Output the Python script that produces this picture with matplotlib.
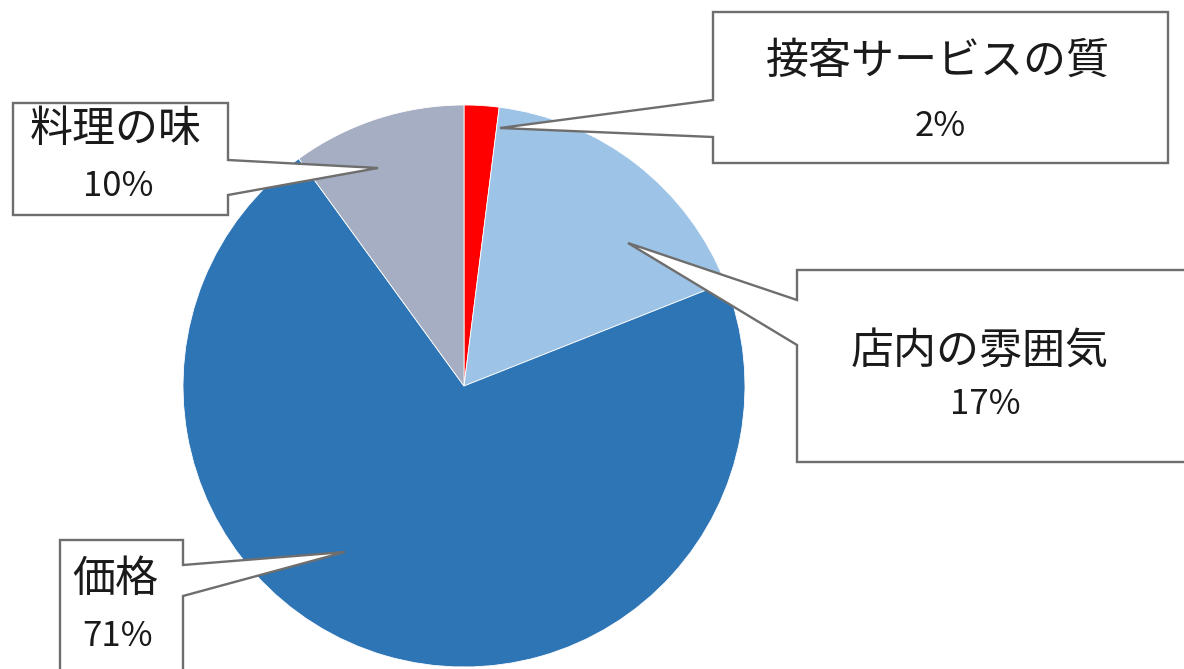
import matplotlib
matplotlib.use("Agg")
import matplotlib.pyplot as plt
from matplotlib.patches import Polygon

plt.rcParams['font.family'] = ['Noto Sans CJK JP', 'DejaVu Sans']

# survey shares, clockwise from 12 o'clock
labels = ['接客サービスの質', '店内の雰囲気', '価格', '料理の味']
shares = [2, 17, 71, 10]
colors = ['#FF0000', '#9DC3E6', '#2E75B6', '#A5AEC2']

W, H = 1184, 669

fig = plt.figure(figsize=(W / 100, H / 100), dpi=100)
ax = fig.add_axes([0, 0, 1, 1])
ax.set_xlim(0, W)
ax.set_ylim(0, H)
ax.set_aspect('equal')
ax.axis('off')


def fy(y):
    # pixel row -> data y
    return H - y


ax.pie(shares, colors=colors, startangle=90, counterclock=False,
       center=(464, fy(386)), radius=281,
       wedgeprops=dict(linewidth=0.6, edgecolor='white'))
ax.set_xlim(0, W)
ax.set_ylim(0, H)

# callout boxes: (x0, y0, x1, y1), side of pointer, pointer base rows, tip
callouts = [
    ((713, 12, 1168, 163), 'left', (100, 137), (500, 128), (938, 62), (940, 126)),
    ((797, 270, 1190, 462), 'left', (300, 345), (628, 243), (980, 352), (985, 405)),
    ((60, 540, 183, 680), 'right', (565, 596), (345, 552), (115, 580), (118, 636)),
    ((13, 103, 228, 215), 'right', (160, 195), (378, 168), (116, 130), (118, 186)),
]

for i, (box, side, base, tip, name_xy, pct_xy) in enumerate(callouts):
    x0, y0, x1, y1 = box
    ya, yb = base
    if side == 'left':
        pts = [(x0, y0), (x1, y0), (x1, y1), (x0, y1), (x0, yb), tip, (x0, ya)]
    else:
        pts = [(x0, y0), (x1, y0), (x1, ya), tip, (x1, yb), (x1, y1), (x0, y1)]
    pts = [(px, fy(py)) for px, py in pts]
    ax.add_patch(Polygon(pts, closed=True, facecolor='white',
                         edgecolor='#6e6e6e', linewidth=1.7, zorder=5))
    ax.text(name_xy[0], fy(name_xy[1]), labels[i], ha='center', va='center',
            fontsize=31, color='#1a1a1a', zorder=6)
    ax.text(pct_xy[0], fy(pct_xy[1]), f'{shares[i]}%', ha='center', va='center',
            fontsize=25, color='#1a1a1a', zorder=6)

fig.savefig('out.png', dpi=100)
